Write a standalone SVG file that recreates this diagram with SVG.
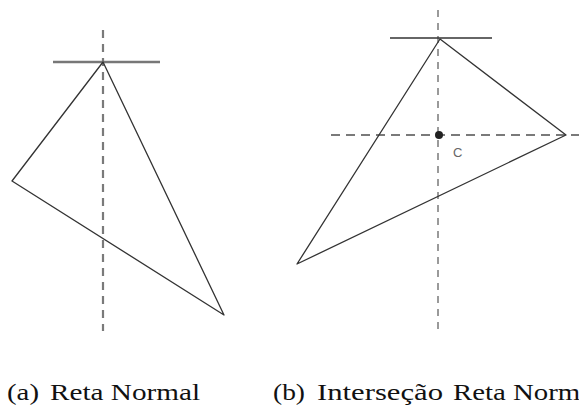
<svg xmlns="http://www.w3.org/2000/svg" width="579" height="412" viewBox="0 0 579 412">
<style>
.edge{stroke:#333;stroke-width:1.3;fill:none;stroke-linejoin:round}
.dash{stroke:#7a7a7a;fill:none}
.tan{fill:none}
.cap{font-family:"Liberation Serif","DejaVu Serif",serif;font-size:23px;fill:#111}
.lbl{font-family:"Liberation Sans",Arial,sans-serif;font-size:13px;fill:#666}
</style>
<rect width="579" height="412" fill="#fff"/>
<g id="fig-a">
<line class="dash" x1="103" y1="30" x2="103" y2="331" stroke-width="2.2" stroke-dasharray="8,6"/>
<line class="tan" x1="53" y1="62" x2="160" y2="62" stroke="#777" stroke-width="2.4"/>
<polygon class="edge" points="103,62 12,181 224,315"/>
</g>
<g id="fig-b">
<line class="dash" x1="438" y1="10" x2="438" y2="330" stroke-width="1.5" stroke-dasharray="7,6"/>
<line class="dash" x1="331" y1="135" x2="579" y2="135" stroke-width="2.2" stroke-dasharray="9,6"/>
<line class="tan" x1="390" y1="38" x2="492" y2="38" stroke="#333" stroke-width="1.7"/>
<polygon class="edge" points="440,39 566,135 297,264"/>
<circle cx="439" cy="135" r="4" fill="#222"/>
<text class="lbl" x="453" y="157">C</text>
</g>
<g id="captions">
<text class="cap" y="400"><tspan x="7" textLength="32" lengthAdjust="spacingAndGlyphs">(a)</tspan><tspan x="50" textLength="150" lengthAdjust="spacingAndGlyphs">Reta Normal</tspan></text>
<text class="cap" y="400"><tspan x="273" textLength="32" lengthAdjust="spacingAndGlyphs">(b)</tspan><tspan x="317" textLength="126" lengthAdjust="spacingAndGlyphs">Interseção</tspan><tspan x="453" textLength="148" lengthAdjust="spacingAndGlyphs">Reta Normal</tspan></text>
</g>
</svg>
